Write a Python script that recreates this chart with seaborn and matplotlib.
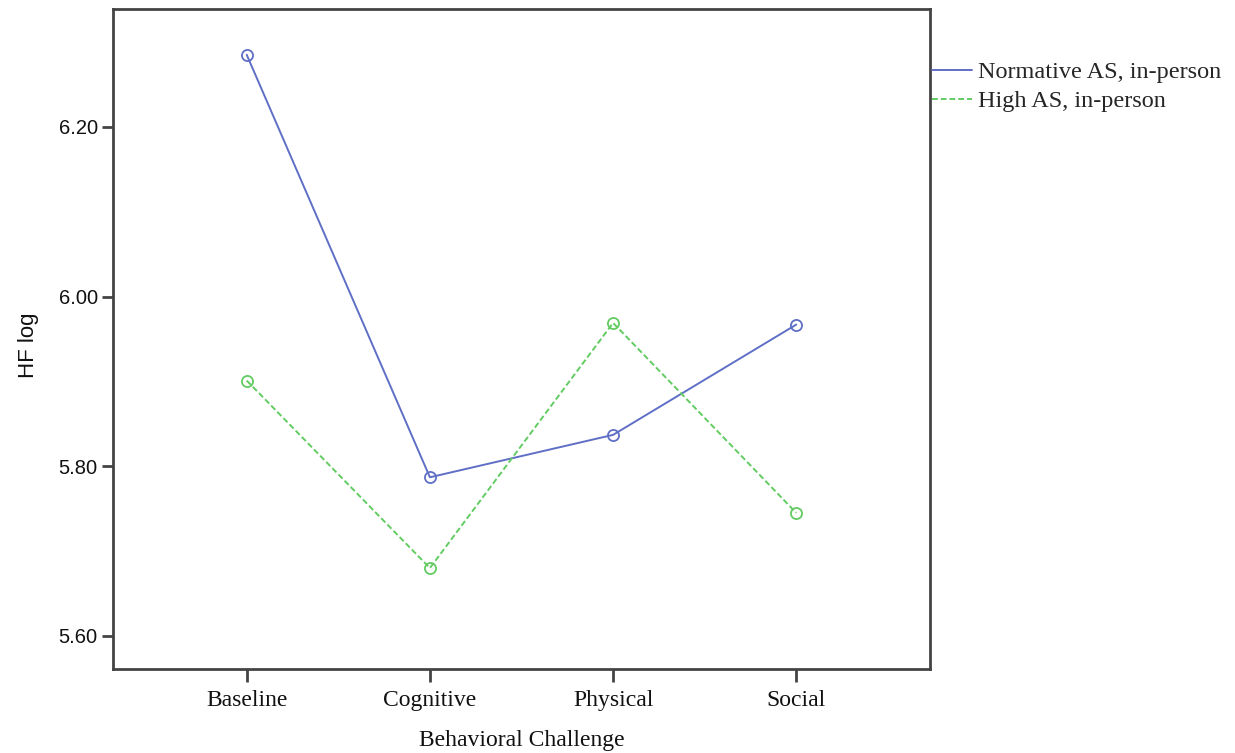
import matplotlib
matplotlib.use("Agg")
import matplotlib.pyplot as plt
from matplotlib.lines import Line2D
import seaborn as sns
import pandas as pd

categories = ["Baseline", "Cognitive", "Physical", "Social"]
normative = [6.285, 5.787, 5.837, 5.967]
high = [5.901, 5.680, 5.969, 5.745]
series_names = ["Normative AS, in-person", "High AS, in-person"]
yticks = [5.60, 5.80, 6.00, 6.20]

sns.set_theme(style="white")
plt.rcParams["font.family"] = ["Liberation Serif", "DejaVu Serif"]

fig = plt.figure(figsize=(12.35, 7.53), dpi=100)
ax = fig.add_axes([113 / 1235, 84 / 753, 817 / 1235, 660 / 753])

blue = "#5f6fc6"
green = "#62cc62"
dash = (0, (3, 1.5))

df_n = pd.DataFrame({"challenge": categories, "value": normative})
df_h = pd.DataFrame({"challenge": categories, "value": high})

sns.lineplot(data=df_n, x="challenge", y="value", ax=ax, color=blue, lw=1.4,
             marker="o", markersize=8, markerfacecolor="none", markeredgecolor=blue,
             markeredgewidth=1.3, sort=False, legend=False)
sns.lineplot(data=df_h, x="challenge", y="value", ax=ax, color=green, lw=1.4,
             marker="o", markersize=8, markerfacecolor="none", markeredgecolor=green,
             markeredgewidth=1.3, sort=False, legend=False)
for line in ax.lines:
    line.set_markerfacecolor("none")
    line.set_markeredgecolor(line.get_color())
ax.lines[1].set_linestyle(dash)

ax.set_xlim(-0.73, 3.73)
ax.set_ylim(5.561, 6.339)
ax.set_yticks(yticks)
ax.set_yticklabels([f"{v:.2f}" for v in yticks],
                   family=["Liberation Sans", "DejaVu Sans"], fontsize=14.5)

for s in ax.spines.values():
    s.set_color("#444444")
    s.set_linewidth(2)
    s.set_visible(True)
ax.tick_params(axis="both", direction="out", width=2, color="#444444",
               labelcolor="#111111", left=True, bottom=True)
ax.tick_params(axis="y", length=8, pad=3)
ax.tick_params(axis="x", length=9, pad=6, labelsize=17)

ax.set_xlabel("Behavioral Challenge", fontsize=17, color="#111111", va="center")
ax.xaxis.set_label_coords(0.5, -0.109)
ax.set_ylabel("HF log", fontsize=16, color="#111111", family=["Liberation Sans", "DejaVu Sans"],
              va="center")
ax.yaxis.set_label_coords(-0.103, 0.49)

handles = [Line2D([], [], color=blue, lw=1.4),
           Line2D([], [], color=green, lw=1.4, linestyle=dash)]
ax.legend(handles, series_names, loc="upper left", bbox_to_anchor=(1.0 + 2 / 817, 0.921),
          frameon=False, fontsize=17.5, handlelength=1.65, handletextpad=0.25,
          labelspacing=0.3, borderpad=0, borderaxespad=0)

fig.savefig("out.png", dpi=100)
